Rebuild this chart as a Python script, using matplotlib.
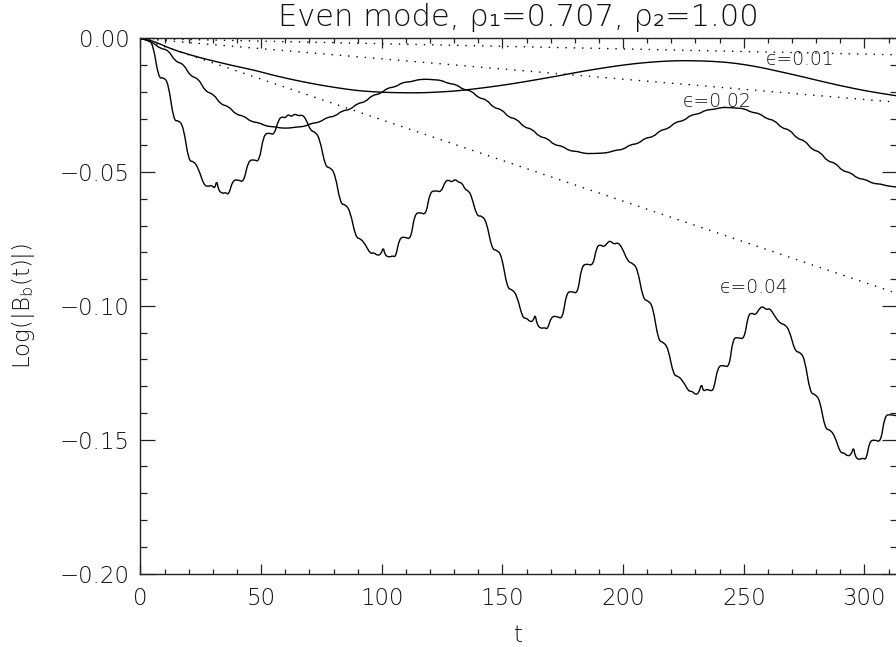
import numpy as np
import matplotlib
matplotlib.use('Agg')
import matplotlib.pyplot as plt
from matplotlib.ticker import MultipleLocator, FuncFormatter
from matplotlib.path import Path
from matplotlib.patches import PathPatch

plt.rcParams['font.family'] = ['DejaVu Sans']
plt.rcParams['mathtext.fontset'] = 'custom'
plt.rcParams['mathtext.rm'] = 'DejaVu Sans:extralight'
plt.rcParams['mathtext.it'] = 'DejaVu Sans:italic:extralight'

# eps = 0.01 (slow, almost no ripple)
eps01 = [(0, 0.0000), (4, -0.0006), (8, -0.0020), (13, -0.0040), (19, -0.0057), (26, -0.0075),
         (33, -0.0090), (40, -0.0105), (47, -0.0118), (54, -0.0135), (61, -0.0150), (68, -0.0163),
         (75, -0.0175), (82, -0.0185), (89, -0.0194), (96, -0.0199), (103, -0.0202), (110, -0.0203),
         (117, -0.0203), (124, -0.0200), (131, -0.0196), (138, -0.0189), (145, -0.0181), (152, -0.0172),
         (159, -0.0162), (166, -0.0151), (173, -0.0140), (180, -0.0128), (187, -0.0117), (194, -0.0107),
         (201, -0.0098), (208, -0.0091), (215, -0.0086), (222, -0.0083), (229, -0.0083), (236, -0.0085),
         (243, -0.0089), (250, -0.0097), (257, -0.0108), (264, -0.0122), (271, -0.0136), (278, -0.0151),
         (285, -0.0166), (292, -0.0180), (299, -0.0193), (306, -0.0204), (313.2, -0.0214)]

# eps = 0.02 (wavy)
eps02 = [(0, 0.0), (1.7, -0.0003), (5.3, -0.0016), (8.0, -0.0037), (11.6, -0.0043),
         (14.3, -0.0086), (17.9, -0.0095), (20.5, -0.0140), (24.1, -0.0150),
         (26.8, -0.0198), (30.4, -0.0208), (33.1, -0.0246), (36.7, -0.0254),
         (39.4, -0.0284), (43.0, -0.0290), (45.7, -0.0311), (49.3, -0.0315),
         (52.0, -0.0328), (55.6, -0.0330), (58.2, -0.0335), (61.8, -0.0335),
         (64.5, -0.0331), (68.1, -0.0329), (70.8, -0.0317), (74.4, -0.0313),
         (77.1, -0.0295), (80.7, -0.0291), (83.4, -0.0270), (87.0, -0.0266),
         (89.7, -0.0243), (93.3, -0.0237), (95.9, -0.0212), (99.5, -0.0207),
         (102.2, -0.0185), (105.8, -0.0181), (108.5, -0.0164), (112.1, -0.0162),
         (114.8, -0.0154), (118.4, -0.0152), (121.1, -0.0154), (124.7, -0.0156),
         (127.4, -0.0168), (131.0, -0.0172), (133.6, -0.0191), (137.2, -0.0195),
         (139.9, -0.0222), (143.5, -0.0228), (146.2, -0.0259), (149.8, -0.0265),
         (152.5, -0.0295), (156.1, -0.0301), (158.8, -0.0332), (162.4, -0.0338),
         (165.1, -0.0367), (168.7, -0.0373), (171.3, -0.0398), (174.9, -0.0402),
         (177.6, -0.0420), (181.2, -0.0422), (183.9, -0.0430), (187.5, -0.0430),
         (190.2, -0.0429), (193.8, -0.0427), (196.5, -0.0418), (200.1, -0.0415),
         (202.8, -0.0397), (206.4, -0.0393), (209.0, -0.0372), (212.6, -0.0368),
         (215.3, -0.0343), (218.9, -0.0337), (221.6, -0.0312), (225.2, -0.0308),
         (227.9, -0.0286), (231.5, -0.0282), (234.2, -0.0267), (237.8, -0.0265),
         (240.5, -0.0258), (244.1, -0.0258), (246.7, -0.0260), (250.3, -0.0262),
         (253.0, -0.0276), (256.6, -0.0280), (259.3, -0.0300), (262.9, -0.0306),
         (265.6, -0.0335), (269.2, -0.0341), (271.9, -0.0374), (275.5, -0.0382),
         (278.2, -0.0416), (281.8, -0.0424), (284.5, -0.0459), (288.1, -0.0465),
         (290.7, -0.0495), (294.3, -0.0501), (297.0, -0.0523), (300.6, -0.0527),
         (303.3, -0.0542), (306.9, -0.0544), (309.6, -0.0552), (313.2, -0.0555)]

# eps = 0.04 (staircase)
eps04 = [(0, 0.0), (3.0, -0.0005), (5.2, -0.0020),
         (7.5, -0.0150), (9.5, -0.0145), (11.5, -0.0165),
         (13.8, -0.0310), (15.8, -0.0305), (17.8, -0.0330),
         (20.0, -0.0460), (22.0, -0.0458), (24.0, -0.0485),
         (26.3, -0.0550), (28.3, -0.0553), (29.5, -0.0548), (30.8, -0.0562), (31.6, -0.0528),
         (32.3, -0.0568), (34.0, -0.0580), (35.3, -0.0575), (36.6, -0.0585),
         (38.2, -0.0530), (40.5, -0.0528), (42.8, -0.0538),
         (44.6, -0.0458), (47.0, -0.0452), (49.2, -0.0462),
         (51.0, -0.0360), (53.3, -0.0352), (55.4, -0.0362),
         (57.2, -0.0302), (58.8, -0.0292), (60.0, -0.0298), (61.2, -0.0283), (62.5, -0.0293),
         (64.0, -0.0281), (65.5, -0.0290), (67.0, -0.0285), (68.5, -0.0300),
         (70.5, -0.0345), (72.5, -0.0350), (74.3, -0.0375),
         (76.6, -0.0480), (78.6, -0.0482), (80.6, -0.0505),
         (82.9, -0.0620), (84.9, -0.0620), (86.9, -0.0645),
         (89.2, -0.0745), (91.2, -0.0748), (93.2, -0.0770),
         (95.2, -0.0805), (96.8, -0.0800), (98.2, -0.0812), (99.8, -0.0805), (100.6, -0.0778),
         (101.3, -0.0810), (103.0, -0.0818), (104.5, -0.0812), (105.8, -0.0818),
         (107.3, -0.0745), (109.7, -0.0742), (112.0, -0.0752),
         (113.6, -0.0655), (116.0, -0.0650), (118.3, -0.0660),
         (119.9, -0.0575), (122.2, -0.0568), (124.6, -0.0575),
         (126.2, -0.0535), (127.6, -0.0528), (129.0, -0.0538), (130.3, -0.0525), (131.8, -0.0538),
         (133.3, -0.0540), (134.5, -0.0565), (136.0, -0.0570), (137.2, -0.0590),
         (139.4, -0.0665), (141.4, -0.0662), (143.4, -0.0685),
         (145.7, -0.0790), (147.7, -0.0790), (149.7, -0.0812),
         (152.0, -0.0935), (154.0, -0.0938), (156.0, -0.0960),
         (158.3, -0.1045), (160.0, -0.1045), (161.5, -0.1060), (162.8, -0.1055), (163.6, -0.1030),
         (164.3, -0.1070), (166.0, -0.1085), (167.4, -0.1080), (168.7, -0.1088),
         (170.2, -0.1040), (172.5, -0.1038), (174.9, -0.1050),
         (176.5, -0.0950), (178.8, -0.0945), (181.2, -0.0955),
         (182.8, -0.0850), (185.1, -0.0842), (187.5, -0.0850),
         (189.0, -0.0780), (190.5, -0.0770), (192.0, -0.0780), (193.4, -0.0765), (194.6, -0.0755),
         (196.2, -0.0770), (197.8, -0.0762), (199.5, -0.0780),
         (202.0, -0.0835), (204.0, -0.0840), (206.0, -0.0862),
         (208.3, -0.0975), (210.3, -0.0980), (212.3, -0.1000),
         (214.6, -0.1130), (216.6, -0.1135), (218.6, -0.1155),
         (220.9, -0.1260), (222.9, -0.1262), (224.9, -0.1282),
         (227.2, -0.1320), (228.6, -0.1318), (230.0, -0.1332), (231.4, -0.1325), (232.5, -0.1288),
         (233.2, -0.1320), (234.8, -0.1310), (236.3, -0.1318), (237.6, -0.1312),
         (239.3, -0.1225), (241.6, -0.1222), (244.0, -0.1230),
         (245.5, -0.1120), (247.8, -0.1118), (250.2, -0.1125),
         (251.8, -0.1035), (253.3, -0.1025), (254.8, -0.1035), (256.3, -0.1012), (257.8, -0.1000),
         (259.3, -0.1015), (260.8, -0.1008), (262.3, -0.1030),
         (264.9, -0.1065), (266.9, -0.1068), (268.9, -0.1090),
         (271.2, -0.1170), (273.2, -0.1172), (275.2, -0.1195),
         (277.5, -0.1325), (279.5, -0.1330), (281.5, -0.1350),
         (283.7, -0.1460), (285.7, -0.1462), (287.7, -0.1485),
         (290.0, -0.1550), (291.5, -0.1548), (293.0, -0.1562), (294.6, -0.1555), (295.5, -0.1525),
         (296.2, -0.1565), (297.8, -0.1575), (299.3, -0.1568), (300.8, -0.1575),
         (302.1, -0.1505), (304.4, -0.1500), (306.8, -0.1510),
         (308.4, -0.1410), (310.7, -0.1405), (313.2, -0.1410)]

# dotted straight decay lines: value at t=0 and at t=313.2
dot_t = [0.0, 313.2]
dot_01 = [0.0, -0.0061]
dot_02 = [0.0, -0.0238]
dot_04 = [0.0, -0.0952]

labels = ['ϵ=0.01', 'ϵ=0.02', 'ϵ=0.04']
label_pos = [(273.4, -0.0078), (239.0, -0.0234), (254.3, -0.0929)]

TXT = dict(color='#111111', fontweight=200)


def smooth_path(pts):
    # quadratic bezier through the read points (points act as control points)
    p = np.asarray(pts, dtype=float)
    verts = [p[0]]
    codes = [Path.MOVETO]
    for i in range(1, len(p) - 1):
        end = p[i + 1] if i == len(p) - 2 else (p[i] + p[i + 1]) / 2
        verts += [p[i], end]
        codes += [Path.CURVE3, Path.CURVE3]
    return Path(verts, codes)


fig = plt.figure(figsize=(8.96, 6.47), dpi=100)
ax = fig.add_axes([0.1568, 0.1136, 0.8443, 0.8269])

for curve in (eps01, eps02, eps04):
    ax.add_patch(PathPatch(smooth_path(curve), fill=False, edgecolor='black', lw=1.0))

for d in (dot_01, dot_02, dot_04):
    ax.plot(dot_t, d, color='black', lw=1.0, linestyle=(0, (1, 5)))

for lab, (tx, ty) in zip(labels, label_pos):
    ax.text(tx, ty, lab, fontsize=13.5, ha='center', va='center', **TXT)

ax.set_xlim(0, 313.5)
ax.set_ylim(-0.20, 0.0)
ax.xaxis.set_major_locator(MultipleLocator(50))
ax.xaxis.set_minor_locator(MultipleLocator(10))
ax.yaxis.set_major_locator(MultipleLocator(0.05))
ax.yaxis.set_minor_locator(MultipleLocator(0.01))
ax.yaxis.set_major_formatter(FuncFormatter(
    lambda v, p: '0.00' if abs(v) < 1e-9 else ('%.2f' % v).replace('-', '\u2212')))

ax.tick_params(axis='both', which='both', direction='in', top=True, right=True,
               width=0.9, color='#222222', labelsize=16.5, labelcolor='#111111')
ax.tick_params(axis='x', which='major', length=7.5, pad=10)
ax.tick_params(axis='x', which='minor', length=3.6)
ax.tick_params(axis='y', which='major', length=10.8, pad=8)
ax.tick_params(axis='y', which='minor', length=5)
for s in ax.spines.values():
    s.set_linewidth(1.0)
    s.set_color('#222222')

for lab in ax.get_xticklabels() + ax.get_yticklabels():
    lab.set_fontweight(200)
fig.canvas.draw()
ylabs = ax.get_yticklabels()
ylabs[0].set_va('bottom')
ylabs[-1].set_va('top')

ax.set_title('Even mode, ρ\u2081=0.707, ρ\u2082=1.00', fontsize=22, pad=9, **TXT)
ax.set_xlabel('t', fontsize=16.5, labelpad=10, **TXT)
ax.set_ylabel(r'Log(|B$_{\rm b}$(t)|)', fontsize=16.5, labelpad=16, **TXT)

fig.savefig('out.png', dpi=100)
